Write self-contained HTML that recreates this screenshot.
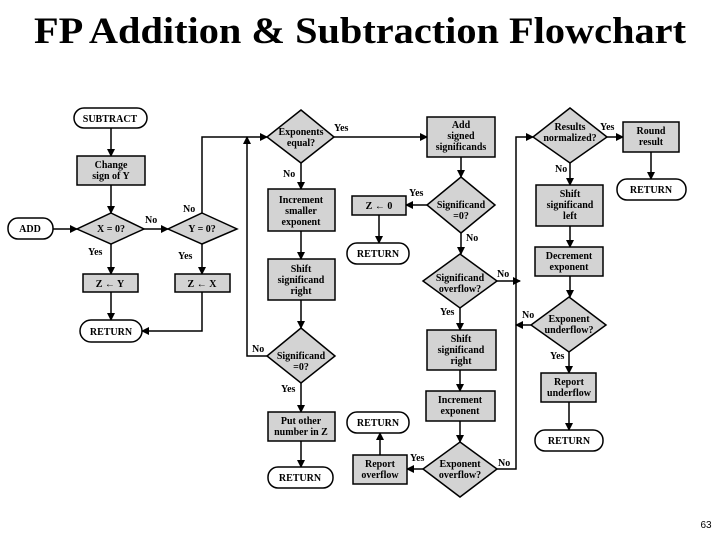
<!DOCTYPE html>
<html><head><meta charset="utf-8"><style>
html,body{margin:0;padding:0;background:#fff;}
svg{display:block;}
text{font-family:"Liberation Serif",serif;font-weight:bold;}
.t{font-size:10px;text-anchor:middle;}
.l{font-size:10px;}
.b{fill:#d3d3d3;stroke:#000;stroke-width:1.5;}
.r{fill:#fff;stroke:#000;stroke-width:1.5;}
.c{fill:none;stroke:#000;stroke-width:1.5;}
</style></head><body>
<svg width="720" height="540" viewBox="0 0 720 540" xmlns="http://www.w3.org/2000/svg">
<defs><marker id="a" markerWidth="8" markerHeight="8" refX="7" refY="4" orient="auto" markerUnits="userSpaceOnUse"><path d="M0,0 L8,4 L0,8 z" fill="#000"/></marker></defs>
<text x="360" y="43" font-size="37" text-anchor="middle" textLength="652" lengthAdjust="spacingAndGlyphs">FP Addition &amp; Subtraction Flowchart</text>
<text x="706" y="528" font-size="10" style="font-weight:normal;font-family:'Liberation Sans',sans-serif" text-anchor="middle">63</text>

<!-- connectors -->
<g class="c" marker-end="url(#a)">
<path d="M111,128 V156"/>
<path d="M111,185 V213"/>
<path d="M53,229 H77"/>
<path d="M144,229 H168"/>
<path d="M111,244 V274"/>
<path d="M202,244 V274"/>
<path d="M111,292 V320"/>
<path d="M202,292 V331 H142"/>
<path d="M202,213 V137 H267"/>
<path d="M267,356 H247 V137"/>
<path d="M301,163 V189"/>
<path d="M301,231 V259"/>
<path d="M301,300 V328"/>
<path d="M301,383 V412"/>
<path d="M301,441 V467"/>
<path d="M334,137 H427"/>
<path d="M461,157 V177"/>
<path d="M427,205 H406"/>
<path d="M379,215 V243"/>
<path d="M461,233 V254"/>
<path d="M497,281 H520"/>
<path d="M460,308 V330"/>
<path d="M460,370 V391"/>
<path d="M460,421 V442"/>
<path d="M423,469 H407"/>
<path d="M380,455 V433"/>
<path d="M497,469 H516 V137 H533"/>
<path d="M607,137 H623"/>
<path d="M651,152 V179"/>
<path d="M570,163 V185"/>
<path d="M570,226 V247"/>
<path d="M570,276 V297"/>
<path d="M531,325 H516"/>
<path d="M569,352 V373"/>
<path d="M569,402 V430"/>
</g>

<!-- terminals -->
<rect class="r" x="74" y="108" width="73" height="20" rx="10"/><text class="t" x="110" y="122">SUBTRACT</text>
<rect class="r" x="8" y="218" width="45" height="21" rx="10"/><text class="t" x="30" y="232">ADD</text>
<rect class="r" x="80" y="320" width="62" height="22" rx="11"/><text class="t" x="111" y="335">RETURN</text>
<rect class="r" x="268" y="467" width="65" height="21" rx="10"/><text class="t" x="300" y="481">RETURN</text>
<rect class="r" x="347" y="243" width="62" height="21" rx="10"/><text class="t" x="378" y="257">RETURN</text>
<rect class="r" x="347" y="412" width="62" height="21" rx="10"/><text class="t" x="378" y="426">RETURN</text>
<rect class="r" x="617" y="179" width="69" height="21" rx="10"/><text class="t" x="651" y="193">RETURN</text>
<rect class="r" x="535" y="430" width="68" height="21" rx="10"/><text class="t" x="569" y="444">RETURN</text>

<!-- boxes -->
<rect class="b" x="77" y="156" width="68" height="29"/><text class="t" x="111" y="168">Change</text><text class="t" x="111" y="179">sign of Y</text>
<rect class="b" x="83" y="274" width="55" height="18"/><text class="t" x="110" y="287">Z ← Y</text>
<rect class="b" x="175" y="274" width="55" height="18"/><text class="t" x="202" y="287">Z ← X</text>
<rect class="b" x="268" y="189" width="67" height="42"/><text class="t" x="301" y="203">Increment</text><text class="t" x="301" y="214">smaller</text><text class="t" x="301" y="225">exponent</text>
<rect class="b" x="268" y="259" width="67" height="41"/><text class="t" x="301" y="272">Shift</text><text class="t" x="301" y="283">significand</text><text class="t" x="301" y="294">right</text>
<rect class="b" x="268" y="412" width="67" height="29"/><text class="t" x="301" y="424">Put other</text><text class="t" x="301" y="435">number in Z</text>
<rect class="b" x="427" y="117" width="68" height="40"/><text class="t" x="461" y="128">Add</text><text class="t" x="461" y="139">signed</text><text class="t" x="461" y="150">significands</text>
<rect class="b" x="352" y="196" width="54" height="19"/><text class="t" x="379" y="209">Z ← 0</text>
<rect class="b" x="427" y="330" width="69" height="40"/><text class="t" x="461" y="342">Shift</text><text class="t" x="461" y="353">significand</text><text class="t" x="461" y="364">right</text>
<rect class="b" x="426" y="391" width="69" height="30"/><text class="t" x="460" y="403">Increment</text><text class="t" x="460" y="414">exponent</text>
<rect class="b" x="353" y="455" width="54" height="29"/><text class="t" x="380" y="467">Report</text><text class="t" x="380" y="478">overflow</text>
<rect class="b" x="623" y="122" width="56" height="30"/><text class="t" x="651" y="134">Round</text><text class="t" x="651" y="145">result</text>
<rect class="b" x="536" y="185" width="67" height="41"/><text class="t" x="570" y="197">Shift</text><text class="t" x="570" y="208">significand</text><text class="t" x="570" y="219">left</text>
<rect class="b" x="535" y="247" width="68" height="29"/><text class="t" x="569" y="259">Decrement</text><text class="t" x="569" y="270">exponent</text>
<rect class="b" x="541" y="373" width="55" height="29"/><text class="t" x="569" y="385">Report</text><text class="t" x="569" y="396">underflow</text>

<!-- diamonds -->
<polygon class="b" points="111,213 144,229 111,244 77,229"/><text class="t" x="111" y="232">X = 0?</text>
<polygon class="b" points="202,213 237,229 202,244 168,229"/><text class="t" x="202" y="232">Y = 0?</text>
<polygon class="b" points="301,110 334,137 301,163 267,137"/><text class="t" x="301" y="135">Exponents</text><text class="t" x="301" y="146">equal?</text>
<polygon class="b" points="301,328 335,356 301,383 267,356"/><text class="t" x="301" y="359">Significand</text><text class="t" x="301" y="370">=0?</text>
<polygon class="b" points="461,177 495,205 461,233 427,205"/><text class="t" x="461" y="208">Significand</text><text class="t" x="461" y="219">=0?</text>
<polygon class="b" points="460,254 497,281 460,308 423,281"/><text class="t" x="460" y="281">Significand</text><text class="t" x="460" y="292">overflow?</text>
<polygon class="b" points="460,442 497,469 460,497 423,469"/><text class="t" x="460" y="467">Exponent</text><text class="t" x="460" y="478">overflow?</text>
<polygon class="b" points="570,108 607,137 570,163 533,137"/><text class="t" x="570" y="130">Results</text><text class="t" x="570" y="141">normalized?</text>
<polygon class="b" points="569,297 606,325 569,352 531,325"/><text class="t" x="569" y="322">Exponent</text><text class="t" x="569" y="333">underflow?</text>

<!-- labels -->
<g class="l">
<text x="334" y="131">Yes</text>
<text x="283" y="177">No</text>
<text x="145" y="223">No</text>
<text x="183" y="212">No</text>
<text x="88" y="255">Yes</text>
<text x="178" y="259">Yes</text>
<text x="252" y="352">No</text>
<text x="281" y="392">Yes</text>
<text x="409" y="196">Yes</text>
<text x="466" y="241">No</text>
<text x="497" y="277">No</text>
<text x="440" y="315">Yes</text>
<text x="410" y="461">Yes</text>
<text x="498" y="466">No</text>
<text x="600" y="130">Yes</text>
<text x="555" y="172">No</text>
<text x="522" y="318">No</text>
<text x="550" y="359">Yes</text>
</g>
</svg>
</body></html>
